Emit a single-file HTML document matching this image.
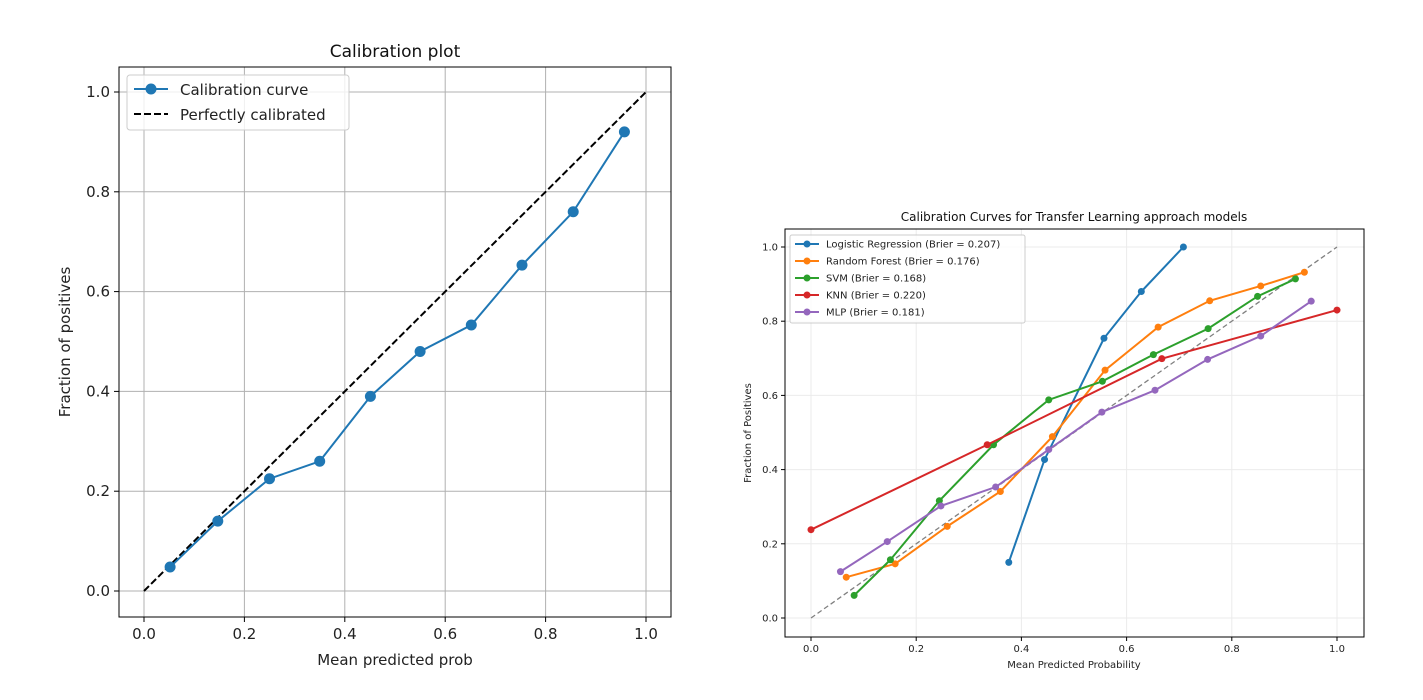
<!DOCTYPE html>
<html><head><meta charset="utf-8"><style>
html,body{margin:0;padding:0;background:#fff;}
svg{display:block;font-family:"DejaVu Sans","Liberation Sans",sans-serif;}
</style></head><body>
<svg id="svg" width="1423" height="700" viewBox="0 0 1423 700" xmlns="http://www.w3.org/2000/svg"></svg>
<script>
// Left chart data
const leftX = [0.052,0.147,0.25,0.35,0.451,0.55,0.652,0.753,0.855,0.957];
const leftY = [0.048,0.14,0.225,0.26,0.39,0.48,0.533,0.653,0.76,0.92];
const leftTicks = ["0.0","0.2","0.4","0.6","0.8","1.0"];
// Right chart data
const rightTicks = ["0.0","0.2","0.4","0.6","0.8","1.0"];
const seriesNames = ["Logistic Regression (Brier = 0.207)","Random Forest (Brier = 0.176)","SVM (Brier = 0.168)","KNN (Brier = 0.220)","MLP (Brier = 0.181)"];
const lrX = [0.376,0.444,0.557,0.628,0.708];
const lrY = [0.150,0.427,0.754,0.880,1.0];
const rfX = [0.067,0.160,0.259,0.36,0.459,0.559,0.66,0.758,0.855,0.938];
const rfY = [0.110,0.146,0.247,0.341,0.489,0.668,0.784,0.855,0.895,0.932];
const svmX = [0.082,0.151,0.244,0.347,0.452,0.554,0.651,0.755,0.849,0.921];
const svmY = [0.061,0.157,0.316,0.467,0.588,0.638,0.710,0.780,0.867,0.914];
const knnX = [0,0.335,0.667,1.0];
const knnY = [0.238,0.467,0.699,0.830];
const mlpX = [0.056,0.145,0.247,0.351,0.452,0.553,0.654,0.754,0.855,0.951];
const mlpY = [0.125,0.206,0.302,0.353,0.454,0.555,0.614,0.697,0.760,0.854];

const NS="http://www.w3.org/2000/svg";
const svg=document.getElementById('svg');
function el(tag,attrs,parent,text){const e=document.createElementNS(NS,tag);for(const k in attrs)e.setAttribute(k,attrs[k]);if(text!==undefined)e.textContent=text;(parent||svg).appendChild(e);return e;}

// ---------- LEFT ----------
const L={x0:144,x1:646,y0:591,y1:92,bl:119,br:671,bt:67,bb:617};
const lx=v=>L.x0+(L.x1-L.x0)*v, ly=v=>L.y0+(L.y1-L.y0)*v;
const gL=el('g',{});


leftTicks.forEach(t=>{const v=parseFloat(t);
  el('line',{x1:lx(v),x2:lx(v),y1:L.bt,y2:L.bb,stroke:'#b0b0b0','stroke-width':1},gL);
  el('line',{x1:L.bl,x2:L.br,y1:ly(v),y2:ly(v),stroke:'#b0b0b0','stroke-width':1},gL);
  el('line',{x1:lx(v),x2:lx(v),y1:L.bb,y2:L.bb+5,stroke:'#000'},gL);
  el('line',{x1:L.bl-5,x2:L.bl,y1:ly(v),y2:ly(v),stroke:'#000'},gL);
  const tx=el('text',{x:lx(v),y:L.bb+22,'text-anchor':'middle','font-size':15,fill:'#222'},gL,t);
  
  
  const ty=el('text',{x:L.bl-9,y:ly(v)+5,'text-anchor':'end','font-size':15,fill:'#222'},gL,t);
  
  
});
const diag=el('line',{x1:lx(0),y1:ly(0),x2:lx(1),y2:ly(1),stroke:'#000','stroke-width':2,'stroke-dasharray':'7,3'},gL);


const lp=el('polyline',{points:leftX.map((x,i)=>lx(x)+','+ly(leftY[i])).join(' '),fill:'none',stroke:'#1f77b4','stroke-width':2},gL);


leftX.forEach((x,i)=>{const c=el('circle',{cx:lx(x),cy:ly(leftY[i]),r:5.5,fill:'#1f77b4'},gL);
  
  });
el('rect',{x:L.bl,y:L.bt,width:L.br-L.bl,height:L.bb-L.bt,fill:'none',stroke:'#000','stroke-width':1},gL);
const lt=el('text',{x:395,y:57,'text-anchor':'middle','font-size':17,fill:'#111'},gL,'Calibration plot');


const lxt=el('text',{x:395,y:665,'text-anchor':'middle','font-size':15,fill:'#222'},gL,'Mean predicted prob');


const lyt=el('text',{x:70,y:342,'text-anchor':'middle','font-size':15,fill:'#222',transform:'rotate(-90 70 342)'},gL,'Fraction of positives');


const lg=el('g',{},gL);


el('rect',{x:127,y:75,width:222,height:55,rx:3,fill:'#fff','fill-opacity':0.8,stroke:'#ccc'},lg);
el('line',{x1:134,x2:168,y1:89,y2:89,stroke:'#1f77b4','stroke-width':2},lg);
el('circle',{cx:151,cy:89,r:5.5,fill:'#1f77b4'},lg);
el('text',{x:180,y:95,'font-size':15,fill:'#222'},lg,'Calibration curve');
el('line',{x1:134,x2:168,y1:114,y2:114,stroke:'#000','stroke-width':2,'stroke-dasharray':'7,3'},lg);
el('text',{x:180,y:120,'font-size':15,fill:'#222'},lg,'Perfectly calibrated');

// ---------- RIGHT ----------
const R={x0:811,x1:1337,y0:618,y1:247,bl:785,br:1364,bt:229,bb:637};
const rx=v=>R.x0+(R.x1-R.x0)*v, ry=v=>R.y0+(R.y1-R.y0)*v;
const gR=el('g',{});


rightTicks.forEach(t=>{const v=parseFloat(t);
  el('line',{x1:rx(v),x2:rx(v),y1:R.bt,y2:R.bb,stroke:'#ebebeb','stroke-width':1},gR);
  el('line',{x1:R.bl,x2:R.br,y1:ry(v),y2:ry(v),stroke:'#ebebeb','stroke-width':1},gR);
  el('line',{x1:rx(v),x2:rx(v),y1:R.bb,y2:R.bb+4,stroke:'#000'},gR);
  el('line',{x1:R.bl-4,x2:R.bl,y1:ry(v),y2:ry(v),stroke:'#000'},gR);
  const tx=el('text',{x:rx(v),y:R.bb+15,'text-anchor':'middle','font-size':10,fill:'#222'},gR,t);
  
  
  const ty=el('text',{x:R.bl-7,y:ry(v)+3.5,'text-anchor':'end','font-size':10,fill:'#222'},gR,t);
  
  
});
const rd=el('line',{x1:rx(0),y1:ry(0),x2:rx(1),y2:ry(1),stroke:'#808080','stroke-width':1.3,'stroke-dasharray':'5,3'},gR);


const series=[[lrX,lrY,'#1f77b4','logistic-regression'],[rfX,rfY,'#ff7f0e','random-forest'],[svmX,svmY,'#2ca02c','svm'],[knnX,knnY,'#d62728','knn'],[mlpX,mlpY,'#9467bd','mlp']];
series.forEach(s=>{
  const g=el('g',{},gR);
  
  
  el('polyline',{points:s[0].map((x,i)=>rx(x)+','+ry(s[1][i])).join(' '),fill:'none',stroke:s[2],'stroke-width':2},g);
  s[0].forEach((x,i)=>{const c=el('circle',{cx:rx(x),cy:ry(s[1][i]),r:3.5,fill:s[2]},g);
    
    });
});
el('rect',{x:R.bl,y:R.bt,width:R.br-R.bl,height:R.bb-R.bt,fill:'none',stroke:'#000','stroke-width':1},gR);
const rt=el('text',{x:1074,y:221,'text-anchor':'middle','font-size':12,fill:'#111'},gR,'Calibration Curves for Transfer Learning approach models');


const rxt=el('text',{x:1074,y:668,'text-anchor':'middle','font-size':10,fill:'#222'},gR,'Mean Predicted Probability');


const ryt=el('text',{x:751,y:433,'text-anchor':'middle','font-size':10,fill:'#222',transform:'rotate(-90 751 433)'},gR,'Fraction of Positives');


const rg=el('g',{},gR);


el('rect',{x:790,y:235,width:235,height:88,rx:2,fill:'#fff','fill-opacity':0.8,stroke:'#ccc'},rg);
seriesNames.forEach((n,i)=>{const y=244+i*17;
  const e=el('g',{},rg);
  
  
  el('line',{x1:795,x2:819,y1:y,y2:y,stroke:series[i][2],'stroke-width':2},e);
  el('circle',{cx:807,cy:y,r:3.5,fill:series[i][2]},e);
  el('text',{x:826,y:y+3.5,'font-size':10,fill:'#222'},e,n);
});
</script>
</body></html>
